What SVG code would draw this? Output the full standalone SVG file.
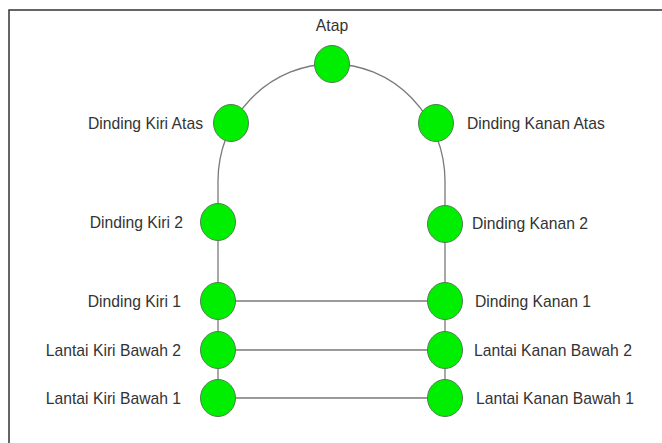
<svg xmlns="http://www.w3.org/2000/svg" width="662" height="443" viewBox="0 0 662 443">
<style>
.n{fill:#00ee00;stroke:#4f7f4f;stroke-width:1}
.e{fill:none;stroke:#7a7a7a;stroke-width:1.3}
text{font-family:"Liberation Sans",Arial,sans-serif;font-size:15.7px;fill:#333}
.r{text-anchor:end}
.m{text-anchor:middle}
</style>
<rect x="0" y="0" width="662" height="443" fill="#fff"/>
<path d="M9 443 V10 H662" fill="none" stroke="#333" stroke-width="1.5"/>
<g id="connectors">
<path class="e" d="M332 64 A114 117 0 0 0 218 181 V398"/>
<path class="e" d="M332 64 A113 117 0 0 1 445 181 V398"/>
<path class="e" d="M218 301 H445 M218 350 H445 M218 398 H445"/>
</g>
<g id="atap"><ellipse class="n" cx="332" cy="64" rx="17.5" ry="18.5"/><text class="m" x="332" y="31">Atap</text></g>
<g id="dinding-kiri-atas"><ellipse class="n" cx="231" cy="123" rx="17.5" ry="18.5"/><text class="r" x="203" y="129">Dinding Kiri Atas</text></g>
<g id="dinding-kanan-atas"><ellipse class="n" cx="436" cy="123" rx="17.5" ry="18.5"/><text x="467" y="129">Dinding Kanan Atas</text></g>
<g id="dinding-kiri-2"><ellipse class="n" cx="218" cy="222" rx="17.5" ry="18.5"/><text class="r" x="183" y="228">Dinding Kiri 2</text></g>
<g id="dinding-kanan-2"><ellipse class="n" cx="445" cy="224" rx="17.5" ry="18.5"/><text x="472" y="229">Dinding Kanan 2</text></g>
<g id="dinding-kiri-1"><ellipse class="n" cx="218" cy="301" rx="17.5" ry="18.5"/><text class="r" x="181" y="307">Dinding Kiri 1</text></g>
<g id="dinding-kanan-1"><ellipse class="n" cx="445" cy="301" rx="17.5" ry="18.5"/><text x="475" y="307">Dinding Kanan 1</text></g>
<g id="lantai-kiri-bawah-2"><ellipse class="n" cx="218" cy="350" rx="17.5" ry="18.5"/><text class="r" x="181" y="356">Lantai Kiri Bawah 2</text></g>
<g id="lantai-kanan-bawah-2"><ellipse class="n" cx="445" cy="350" rx="17.5" ry="18.5"/><text x="474" y="356">Lantai Kanan Bawah 2</text></g>
<g id="lantai-kiri-bawah-1"><ellipse class="n" cx="218" cy="398" rx="17.5" ry="18.5"/><text class="r" x="181" y="404">Lantai Kiri Bawah 1</text></g>
<g id="lantai-kanan-bawah-1"><ellipse class="n" cx="445" cy="398" rx="17.5" ry="18.5"/><text x="476" y="404">Lantai Kanan Bawah 1</text></g>
</svg>
